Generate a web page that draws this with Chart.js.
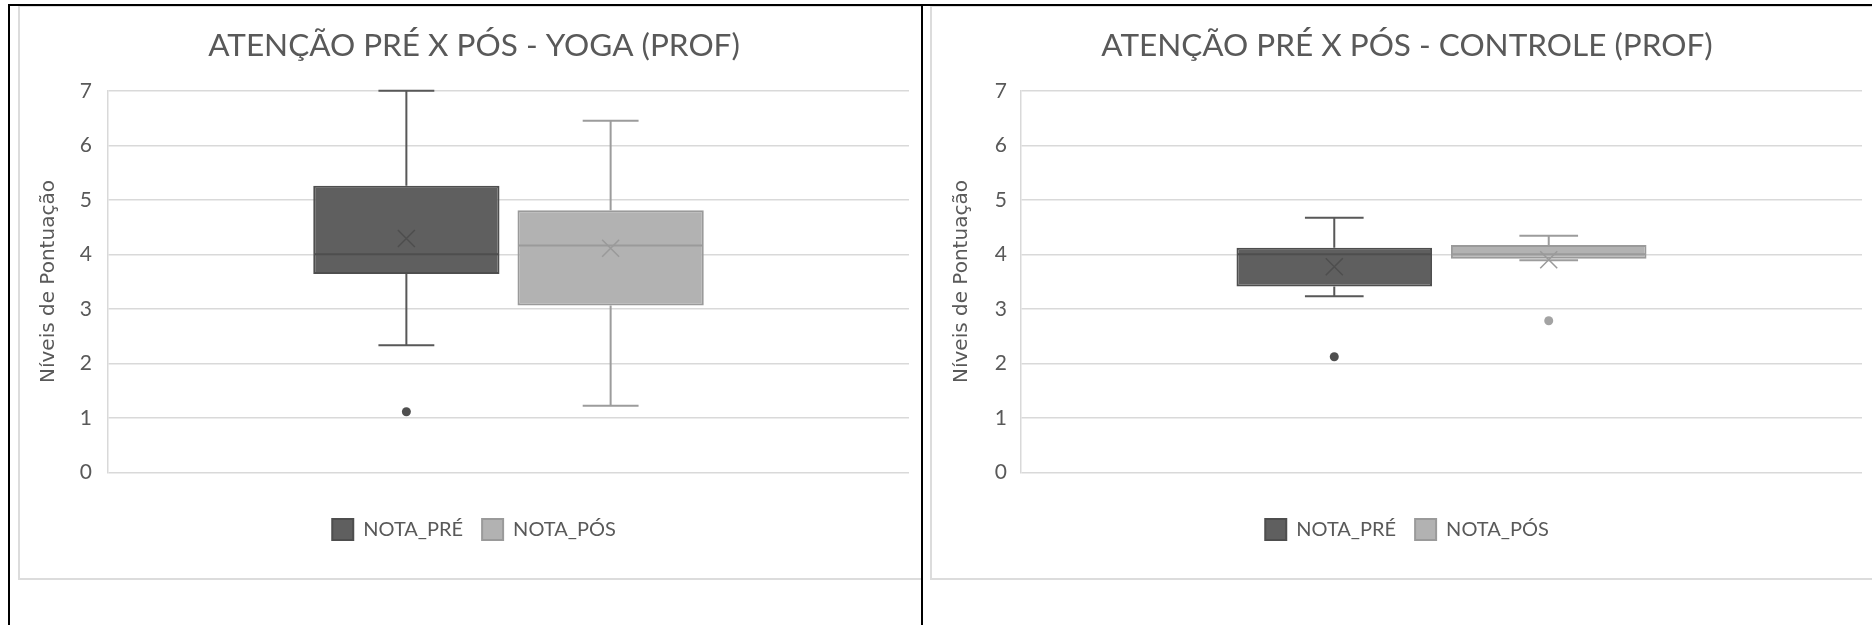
<!DOCTYPE html>
<html lang="pt">
<head>
<meta charset="UTF-8">
<title>Atenção pré x pós</title>
<script src="https://cdn.jsdelivr.net/npm/chart.js"></script>
<style>
  html, body { margin: 0; padding: 0; background: #fff; overflow: hidden; }
  body { width: 1872px; height: 625px; position: relative; }
  .linha { position: absolute; background: #000; }
  .quadro { position: absolute; box-sizing: border-box; border: 2px solid #dcdcdc; }
  canvas { position: absolute; }
</style>
</head>
<body>
  <div class="quadro" style="left:18px; top:5px; width:905px; height:575px;"></div>
  <div class="quadro" style="left:930px; top:5px; width:960px; height:575px;"></div>
  <div class="linha" style="left:8px; top:4px; width:1864px; height:2px;"></div>
  <div class="linha" style="left:8px; top:4px; width:2px; height:621px;"></div>
  <div class="linha" style="left:921px; top:4px; width:2px; height:621px;"></div>

  <canvas id="grafYoga" width="870" height="570" style="left:39px; top:7px;"></canvas>
  <canvas id="grafControle" width="910" height="570" style="left:952px; top:7px;"></canvas>

<script>
  // dados (uma categoria, duas séries)
  const categorias = [""];
  const series = ["NOTA_PRÉ", "NOTA_PÓS"];
  const ticksY = [0, 1, 2, 3, 4, 5, 6, 7];

  // YOGA
  const yogaMin = [2.33, 1.22];
  const yogaQ1 = [3.64, 3.06];
  const yogaMediana = [4.0, 4.16];
  const yogaQ3 = [5.26, 4.81];
  const yogaMax = [7.0, 6.45];
  const yogaMedia = [4.29, 4.11];
  const yogaOutliers = [[1.11], []];

  // CONTROLE
  const ctrlMin = [3.23, 3.89];
  const ctrlQ1 = [3.41, 3.92];
  const ctrlMediana = [4.0, 4.0];
  const ctrlQ3 = [4.12, 4.17];
  const ctrlMax = [4.67, 4.34];
  const ctrlMedia = [3.77, 3.9];
  const ctrlOutliers = [[2.12], [2.78]];

  const preenchimento = ["#5f5f5f", "#b2b2b2"];
  const contorno = ["#4e4e4e", "#9a9a9a"];
  const corBigode = ["#585858", "#9c9c9c"];
  const corPonto = ["#4f4f4f", "#a3a3a3"];

  // desenha bigodes, mediana, média (X) e outliers usando a escala do Chart.js
  const caixaPlugin = {
    id: "caixa",
    afterDatasetsDraw(chart) {
      const ctx = chart.ctx;
      const y = chart.scales.y;
      chart.data.datasets.forEach((ds, i) => {
        const bar = chart.getDatasetMeta(i).data[0];
        const { x, width } = bar.getProps(["x", "width"], true);
        const cap = width * 0.15;
        ctx.save();
        ctx.strokeStyle = corBigode[i];
        ctx.lineWidth = 2;
        ctx.beginPath();
        ctx.moveTo(x, y.getPixelForValue(ds.q3));
        ctx.lineTo(x, y.getPixelForValue(ds.maximo));
        ctx.moveTo(x, y.getPixelForValue(ds.q1));
        ctx.lineTo(x, y.getPixelForValue(ds.minimo));
        ctx.moveTo(x - cap, y.getPixelForValue(ds.maximo));
        ctx.lineTo(x + cap, y.getPixelForValue(ds.maximo));
        ctx.moveTo(x - cap, y.getPixelForValue(ds.minimo));
        ctx.lineTo(x + cap, y.getPixelForValue(ds.minimo));
        ctx.stroke();

        // mediana
        ctx.strokeStyle = contorno[i];
        ctx.beginPath();
        ctx.moveTo(x - width / 2 + 1, y.getPixelForValue(ds.mediana));
        ctx.lineTo(x + width / 2 - 1, y.getPixelForValue(ds.mediana));
        ctx.stroke();

        // média
        const ym = y.getPixelForValue(ds.media);
        const r = 8.5;
        ctx.lineWidth = 1.5;
        ctx.beginPath();
        ctx.moveTo(x - r, ym - r);
        ctx.lineTo(x + r, ym + r);
        ctx.moveTo(x - r, ym + r);
        ctx.lineTo(x + r, ym - r);
        ctx.stroke();

        // outliers
        ctx.fillStyle = corPonto[i];
        ds.outliers.forEach(v => {
          ctx.beginPath();
          ctx.arc(x, y.getPixelForValue(v), 4.5, 0, Math.PI * 2);
          ctx.fill();
        });
        ctx.restore();
      });
    }
  };

  function desenharGrafico(id, titulo, min, q1, mediana, q3, max, media, outliers, padTicks) {
    const datasets = series.map((nome, i) => ({
      label: nome,
      data: [[q1[i], q3[i]]],
      backgroundColor: preenchimento[i],
      borderColor: contorno[i],
      borderWidth: 2,
      borderSkipped: false,
      categoryPercentage: 0.51,
      barPercentage: 0.912,
      minimo: min[i],
      q1: q1[i],
      mediana: mediana[i],
      q3: q3[i],
      maximo: max[i],
      media: media[i],
      outliers: outliers[i]
    }));

    return new Chart(document.getElementById(id), {
      type: "bar",
      data: { labels: categorias, datasets: datasets },
      plugins: [caixaPlugin],
      options: {
        responsive: false,
        animation: false,
        layout: { padding: { left: 0, right: 0, top: 0, bottom: 27 } },
        scales: {
          x: {
            grid: { display: false },
            border: { display: false },
            ticks: { display: false },
            afterFit: s => { s.height = 27.7; }
          },
          y: {
            min: ticksY[0],
            max: ticksY[ticksY.length - 1],
            afterBuildTicks: s => { s.ticks = ticksY.map(v => ({ value: v })); },
            ticks: {
              color: "#595959",
              font: { family: "Lato", size: 21 },
              padding: padTicks
            },
            grid: { color: "#d9d9d9", lineWidth: 1.5, drawTicks: false },
            border: { display: true, color: "#d9d9d9", width: 1.5 },
            title: {
              display: true,
              text: "Níveis de Pontuação",
              color: "#595959",
              font: { family: "DejaVu Sans", size: 20, lineHeight: 1 },
              padding: { top: 0, bottom: 0 }
            },
            afterFit: s => { s.width = 69; }
          }
        },
        plugins: {
          tooltip: { enabled: false },
          title: {
            display: true,
            text: titulo,
            color: "#595959",
            font: { family: "Lato", size: 31.5, weight: 400 },
            padding: { top: 20, bottom: 26 }
          },
          legend: {
            position: "bottom",
            labels: {
              boxWidth: 21,
              boxHeight: 21,
              padding: 19,
              color: "#595959",
              font: { family: "Lato", size: 20 }
            }
          }
        }
      }
    });
  }

  desenharGrafico("grafYoga", "ATENÇÃO PRÉ X PÓS - YOGA (PROF)",
    yogaMin, yogaQ1, yogaMediana, yogaQ3, yogaMax, yogaMedia, yogaOutliers, 16);
  desenharGrafico("grafControle", "ATENÇÃO PRÉ X PÓS - CONTROLE (PROF)",
    ctrlMin, ctrlQ1, ctrlMediana, ctrlQ3, ctrlMax, ctrlMedia, ctrlOutliers, 14);
</script>
</body>
</html>
